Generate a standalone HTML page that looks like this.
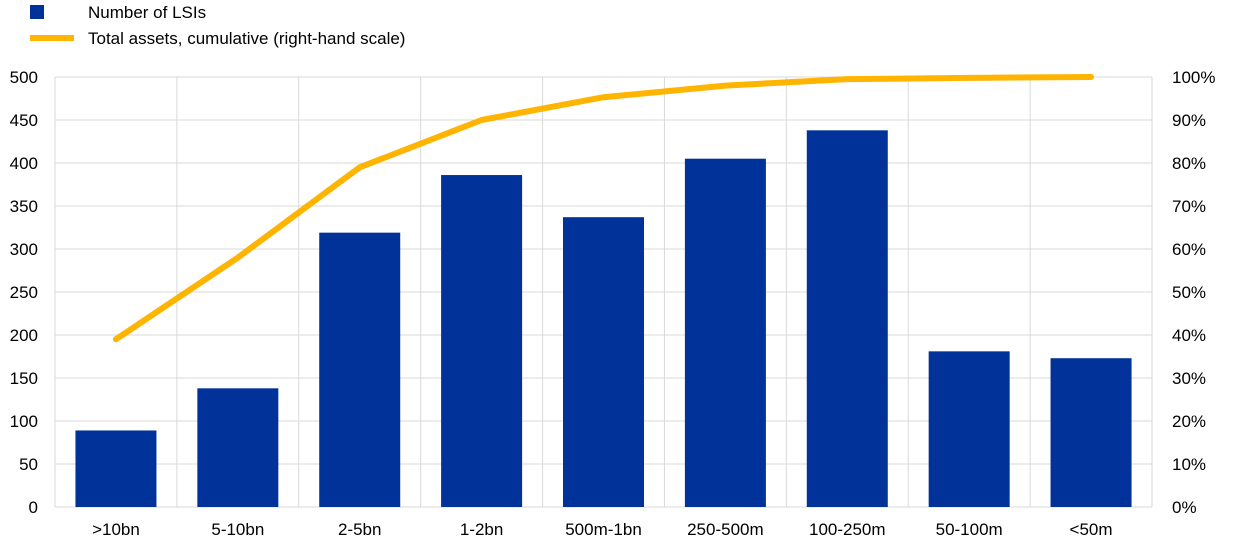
<!DOCTYPE html>
<html><head><meta charset="utf-8"><style>
html,body{margin:0;padding:0;background:#fff;}
svg{display:block;font-family:"Liberation Sans",Arial,sans-serif;}
</style></head><body>
<svg id="chart" width="1240" height="550" viewBox="0 0 1240 550">
  <g>
    <rect x="30" y="5" width="14" height="14" fill="#003299"/>
    <text x="88" y="18" font-size="17" fill="#000">Number of LSIs</text>
    <line x1="30" y1="38" x2="74" y2="38" stroke="#FFB400" stroke-width="6"/>
    <text x="88" y="44" font-size="17" fill="#000">Total assets, cumulative (right-hand scale)</text>
  </g>
  <g id="grid"></g>
  <g id="bars"></g>
  <g id="line"></g>
  <g id="axes"></g>
</svg>
<script>
const categories = [">10bn","5-10bn","2-5bn","1-2bn","500m-1bn","250-500m","100-250m","50-100m","<50m"];
const lsiCounts = [89,138,319,386,337,405,438,181,173];
const cumulativeAssets = [39,58,79,90,95.3,98,99.5,99.8,100];
const leftTicks = [0,50,100,150,200,250,300,350,400,450,500];
const rightTicks = ["0%","10%","20%","30%","40%","50%","60%","70%","80%","90%","100%"];

const NS="http://www.w3.org/2000/svg";
const X0=55, X1=1152, Y0=507, Y1=77;
const step=(X1-X0)/categories.length;
function yL(v){return Y0-(v/500)*(Y0-Y1);}
function yR(p){return Y0-(p/100)*(Y0-Y1);}
function xC(i){return X0+step*(i+0.5);}
function mk(tag,attrs,parent){const e=document.createElementNS(NS,tag);for(const k in attrs)e.setAttribute(k,attrs[k]);parent.appendChild(e);return e;}

const grid=document.getElementById('grid');
leftTicks.forEach((t,i)=>{
  const l=mk('line',{x1:X0,x2:X1,y1:yL(t),y2:yL(t),stroke:'#d9d9d9','stroke-width':1},grid);
  
  
});
for(let i=0;i<=categories.length;i++){
  const x=X0+step*i;
  const l=mk('line',{x1:x,x2:x,y1:Y1,y2:Y0,stroke:'#d9d9d9','stroke-width':1},grid);
  
  
}

const bars=document.getElementById('bars');
const bw=81;
lsiCounts.forEach((v,i)=>{
  const r=mk('rect',{x:xC(i)-bw/2,y:yL(v),width:bw,height:Y0-yL(v),fill:'#003299'},bars);
  
  
});

const line=document.getElementById('line');
const pts=cumulativeAssets.map((p,i)=>xC(i)+','+yR(p)).join(' ');
const pl=mk('polyline',{points:pts,fill:'none',stroke:'#FFB400','stroke-width':6,'stroke-linejoin':'round','stroke-linecap':'round'},line);



const axes=document.getElementById('axes');
leftTicks.forEach(t=>{
  const tx=mk('text',{x:38,y:yL(t)+6,'font-size':17,'text-anchor':'end',fill:'#000'},axes);
  tx.textContent=t;
  
  
});
rightTicks.forEach((t,i)=>{
  const tx=mk('text',{x:1172,y:yR(i*10)+6,'font-size':17,'text-anchor':'start',fill:'#000'},axes);
  tx.textContent=t;
  
  
});
categories.forEach((c,i)=>{
  const tx=mk('text',{x:xC(i),y:535,'font-size':17,'text-anchor':'middle',fill:'#000'},axes);
  tx.textContent=c;
  
  
});
</script>
</body></html>
